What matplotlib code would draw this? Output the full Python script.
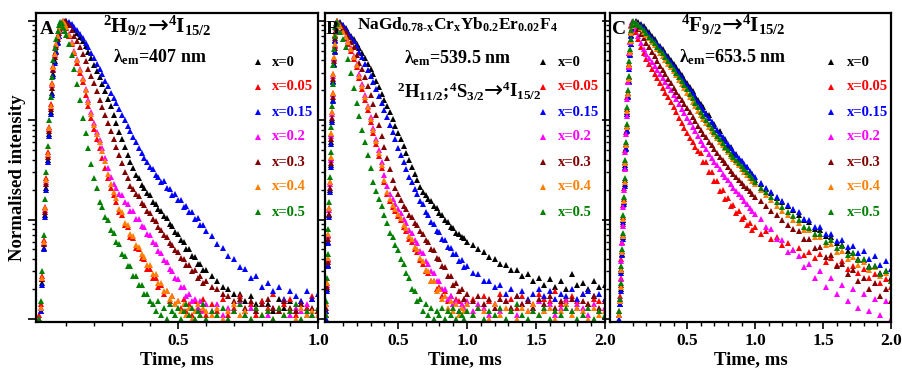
import matplotlib
matplotlib.use("Agg")
import matplotlib.pyplot as plt
from matplotlib.ticker import FixedLocator, NullFormatter, LogLocator, FormatStrFormatter

plt.rcParams['font.family'] = ['Liberation Serif', 'DejaVu Serif']
plt.rcParams['font.weight'] = 'bold'
plt.rcParams['mathtext.fontset'] = 'custom'
plt.rcParams['mathtext.rm'] = 'Liberation Serif:bold'
plt.rcParams['mathtext.it'] = 'Liberation Serif:bold'
plt.rcParams['mathtext.bf'] = 'Liberation Serif:bold'

# ---------------------------------------------------------------- series
labels = ['x=0', 'x=0.05', 'x=0.15', 'x=0.2', 'x=0.3', 'x=0.4', 'x=0.5']
colors = ['#000000', '#FF0000', '#0000FF', '#FF00FF', '#800000', '#FF8000', '#008000']

# ---------------------------------------------------------------- panel A (407 nm), time in ms
a_time = [0.005, 0.010, 0.015, 0.020, 0.025, 0.030, 0.035, 0.040, 0.045, 0.050,
          0.055, 0.060, 0.065, 0.070, 0.075, 0.080, 0.085, 0.090, 0.095, 0.100,
          0.11, 0.12, 0.13, 0.14, 0.15, 0.16, 0.17, 0.18, 0.19, 0.20,
          0.21, 0.22, 0.23, 0.24, 0.25, 0.26, 0.27, 0.28, 0.29, 0.30,
          0.31, 0.32, 0.33, 0.34, 0.35, 0.36, 0.37, 0.38, 0.39, 0.40,
          0.41, 0.42, 0.43, 0.44, 0.45, 0.46, 0.47, 0.48, 0.49, 0.50,
          0.51, 0.52, 0.53, 0.54, 0.55, 0.56, 0.57, 0.58, 0.59, 0.60,
          0.62, 0.64, 0.66, 0.68, 0.70, 0.72, 0.74, 0.76, 0.78, 0.80,
          0.82, 0.84, 0.86, 0.88, 0.90, 0.92, 0.94, 0.96, 0.98, 1.00]
a_x0 = [0.0010, 0.0012, 0.0023, 0.0052, 0.011, 0.021, 0.04, 0.072, 0.12, 0.19,
        0.29, 0.39, 0.5, 0.61, 0.71, 0.8, 0.88, 0.94, 0.98, 1.0,
        0.96, 0.9, 0.83, 0.76, 0.69, 0.62, 0.56, 0.49, 0.42, 0.36,
        0.31, 0.27, 0.23, 0.195, 0.165, 0.138, 0.113, 0.093, 0.076, 0.064,
        0.054, 0.045, 0.038, 0.033, 0.028, 0.026, 0.0225, 0.021, 0.0185, 0.0178,
        0.0150, 0.0144, 0.0128, 0.0123, 0.0108, 0.0104, 0.009, 0.0087, 0.0075, 0.0072,
        0.0062, 0.006, 0.0051, 0.005, 0.0043, 0.0042, 0.0036, 0.0036, 0.0031, 0.0031,
        0.0027, 0.0024, 0.0021, 0.0020, 0.0018, 0.0018, 0.0015, 0.0017, 0.0014, 0.0015,
        0.0014, 0.0012, 0.0016, 0.0013, 0.0015, 0.0012, 0.0014, 0.0013, 0.0016, 0.0012]
a_x005 = [0.0011, 0.0014, 0.0027, 0.0062, 0.0135, 0.026, 0.048, 0.086, 0.145, 0.235,
          0.35, 0.47, 0.59, 0.71, 0.81, 0.9, 0.97, 0.99, 0.93, 0.84,
          0.7, 0.58, 0.47, 0.38, 0.3, 0.24, 0.18, 0.138, 0.105, 0.081,
          0.064, 0.052, 0.042, 0.033, 0.026, 0.021, 0.0175, 0.015, 0.012, 0.0112,
          0.0088, 0.0084, 0.0067, 0.0065, 0.0052, 0.005, 0.0041, 0.004, 0.0032, 0.0032,
          0.0026, 0.0026, 0.0021, 0.0022, 0.0018, 0.0019, 0.0015, 0.0017, 0.0014, 0.0015,
          0.0013, 0.0016, 0.0012, 0.0014, 0.0011, 0.0015, 0.0013, 0.0012, 0.0016, 0.0011,
          0.0014, 0.0012, 0.0016, 0.0011, 0.0013, 0.0017, 0.0012, 0.0014, 0.0011, 0.0015,
          0.0013, 0.0018, 0.0012, 0.0014, 0.0016, 0.0011, 0.0015, 0.0013, 0.0017, 0.0012]
a_x015 = [0.0010, 0.0012, 0.0022, 0.005, 0.0105, 0.02, 0.038, 0.069, 0.115, 0.18,
          0.28, 0.38, 0.49, 0.6, 0.7, 0.79, 0.87, 0.93, 0.97, 0.99,
          0.97, 0.92, 0.86, 0.8, 0.74, 0.67, 0.6, 0.54, 0.48, 0.42,
          0.37, 0.33, 0.29, 0.25, 0.22, 0.19, 0.168, 0.148, 0.13, 0.114,
          0.1, 0.088, 0.077, 0.068, 0.06, 0.053, 0.047, 0.042, 0.038, 0.034,
          0.032, 0.028, 0.027, 0.024, 0.0245, 0.021, 0.0205, 0.0178, 0.0182, 0.0158,
          0.0157, 0.0135, 0.0137, 0.0118, 0.012, 0.0102, 0.0104, 0.0088, 0.0089, 0.0076,
          0.0068, 0.0057, 0.0052, 0.0043, 0.0040, 0.0033, 0.0032, 0.0026, 0.0027, 0.0021,
          0.0023, 0.0019, 0.0021, 0.0016, 0.0019, 0.0017, 0.0015, 0.0019, 0.0016, 0.0018]
a_x02 = [0.0010, 0.0013, 0.0025, 0.0058, 0.0125, 0.024, 0.045, 0.081, 0.135, 0.225,
         0.33, 0.45, 0.57, 0.69, 0.79, 0.88, 0.95, 1.0, 0.95, 0.87,
         0.73, 0.61, 0.5, 0.41, 0.33, 0.265, 0.205, 0.158, 0.12, 0.094,
         0.076, 0.063, 0.052, 0.042, 0.033, 0.027, 0.023, 0.021, 0.018, 0.0175,
         0.015, 0.0145, 0.0122, 0.0121, 0.0102, 0.0101, 0.0086, 0.0084, 0.0071, 0.007,
         0.0059, 0.0057, 0.0048, 0.0046, 0.0039, 0.0037, 0.0032, 0.003, 0.0026, 0.0025,
         0.0021, 0.0021, 0.0017, 0.0018, 0.0015, 0.0016, 0.0013, 0.0015, 0.0012, 0.0014,
         0.0012, 0.0014, 0.0011, 0.0013, 0.0012, 0.0015, 0.0011, 0.0013, 0.0012, 0.0014,
         0.0011, 0.0013, 0.0012, 0.0015, 0.0011, 0.0013, 0.0012, 0.0014, 0.0011, 0.0013]
a_x03 = [0.0010, 0.0013, 0.0025, 0.0057, 0.012, 0.023, 0.043, 0.078, 0.13, 0.21,
         0.32, 0.43, 0.55, 0.66, 0.76, 0.85, 0.92, 0.97, 0.99, 0.97,
         0.9, 0.8, 0.71, 0.62, 0.54, 0.46, 0.39, 0.33, 0.28, 0.235,
         0.195, 0.16, 0.135, 0.112, 0.093, 0.077, 0.064, 0.054, 0.045, 0.037,
         0.03, 0.026, 0.022, 0.0205, 0.018, 0.0172, 0.0148, 0.0141, 0.0121, 0.0117,
         0.0101, 0.0096, 0.0084, 0.0079, 0.007, 0.0066, 0.0058, 0.0056, 0.0049, 0.0047,
         0.0041, 0.004, 0.0035, 0.0035, 0.003, 0.0031, 0.0026, 0.0027, 0.0023, 0.0024,
         0.0021, 0.002, 0.0018, 0.0017, 0.0015, 0.0016, 0.0013, 0.0015, 0.0012, 0.0014,
         0.0016, 0.0013, 0.0012, 0.0015, 0.0013, 0.0012, 0.0014, 0.0011, 0.0013, 0.0012]
a_x04 = [0.0010, 0.0013, 0.0026, 0.006, 0.013, 0.025, 0.046, 0.083, 0.14, 0.23,
         0.34, 0.46, 0.58, 0.7, 0.8, 0.89, 0.96, 1.0, 0.94, 0.86,
         0.72, 0.6, 0.49, 0.4, 0.32, 0.26, 0.2, 0.152, 0.116, 0.09,
         0.073, 0.06, 0.049, 0.039, 0.029, 0.023, 0.019, 0.0165, 0.0128, 0.012,
         0.0093, 0.0089, 0.0071, 0.0069, 0.0055, 0.0053, 0.0045, 0.0042, 0.0035, 0.0035,
         0.0028, 0.0028, 0.0023, 0.0023, 0.0019, 0.0019, 0.0016, 0.0017, 0.0014, 0.0015,
         0.0012, 0.0014, 0.0011, 0.0013, 0.0010, 0.0012, 0.0014, 0.0011, 0.0013, 0.0012,
         0.0011, 0.0013, 0.0010, 0.0012, 0.0014, 0.0011, 0.0012, 0.0010, 0.0013, 0.0011,
         0.0012, 0.0010, 0.0013, 0.0011, 0.0012, 0.0010, 0.0013, 0.0011, 0.0012, 0.0011]
a_x05 = [0.0010, 0.0015, 0.003, 0.007, 0.016, 0.03, 0.055, 0.1, 0.17, 0.27,
         0.4, 0.53, 0.66, 0.79, 0.9, 0.98, 0.95, 0.86, 0.79, 0.72,
         0.58, 0.45, 0.33, 0.23, 0.16, 0.105, 0.074, 0.052, 0.036, 0.026,
         0.021, 0.015, 0.0135, 0.0105, 0.0098, 0.0079, 0.0074, 0.0059, 0.0057, 0.0045,
         0.0043, 0.0034, 0.0034, 0.0027, 0.0027, 0.0022, 0.0022, 0.0018, 0.0018, 0.0015,
         0.0014, 0.0012, 0.0015, 0.0011, 0.0013, 0.0010, 0.0014, 0.0012, 0.0011, 0.0013,
         0.0010, 0.0012, 0.0014, 0.0011, 0.0013, 0.0010, 0.0012, 0.0011, 0.0014, 0.0010,
         0.0012, 0.0011, 0.0013, 0.0010, 0.0012, 0.0014, 0.0011, 0.0010, 0.0013, 0.0011,
         0.0012, 0.0010, 0.0013, 0.0011, 0.0012, 0.0014, 0.0010, 0.0012, 0.0011, 0.0013]

# ---------------------------------------------------------------- panel B (539.5 nm), time in ms
b_time = [-0.025, -0.020, -0.015, -0.010, -0.005, 0.000, 0.005, 0.010, 0.015,
          0.020, 0.025, 0.030, 0.035, 0.040, 0.045, 0.050, 0.055, 0.060,
          0.08, 0.10, 0.12, 0.14, 0.16, 0.18, 0.20, 0.22, 0.24, 0.26,
          0.28, 0.30, 0.32, 0.34, 0.36, 0.38, 0.40, 0.42, 0.44, 0.46,
          0.48, 0.50, 0.52, 0.54, 0.56, 0.58, 0.60, 0.62, 0.64, 0.66,
          0.68, 0.70, 0.72, 0.74, 0.76, 0.78, 0.80, 0.82, 0.84, 0.86,
          0.88, 0.90, 0.92, 0.94, 0.96, 0.98, 1.00,
          1.04, 1.08, 1.12, 1.16, 1.20, 1.24, 1.28, 1.32, 1.36, 1.40,
          1.44, 1.48, 1.52, 1.56, 1.60, 1.64, 1.68, 1.72, 1.76, 1.80,
          1.84, 1.88, 1.92, 1.96, 2.00]
b_x0 = [0.0010, 0.0012, 0.002, 0.0035, 0.006, 0.011, 0.02, 0.035, 0.06,
        0.1, 0.16, 0.25, 0.37, 0.5, 0.64, 0.78, 0.9, 0.98,
        0.97, 0.91, 0.84, 0.77, 0.71, 0.65, 0.59, 0.53, 0.47, 0.42,
        0.37, 0.33, 0.29, 0.25, 0.215, 0.185, 0.16, 0.138, 0.12, 0.103,
        0.088, 0.075, 0.064, 0.055, 0.047, 0.04, 0.034, 0.029, 0.025, 0.0215,
        0.019, 0.0175, 0.016, 0.0152, 0.0138, 0.0131, 0.0117, 0.0111, 0.0099, 0.0094,
        0.0084, 0.0082, 0.0074, 0.0072, 0.0066, 0.0065, 0.006,
        0.0056, 0.0050, 0.0047, 0.0042, 0.0040, 0.0036, 0.0035, 0.0031, 0.0031, 0.0027,
        0.0028, 0.0024, 0.0026, 0.0022, 0.0025, 0.0021, 0.0024, 0.0020, 0.0028, 0.0022,
        0.0023, 0.0020, 0.0024, 0.0021, 0.0022]
b_x005 = [0.0011, 0.0014, 0.0023, 0.004, 0.007, 0.013, 0.024, 0.042, 0.072,
          0.12, 0.19, 0.29, 0.42, 0.57, 0.72, 0.86, 0.96, 0.99,
          0.88, 0.77, 0.67, 0.59, 0.5, 0.41, 0.34, 0.265, 0.205, 0.16,
          0.126, 0.097, 0.075, 0.058, 0.044, 0.033, 0.024, 0.018, 0.0152, 0.0135,
          0.0122, 0.0108, 0.0098, 0.0084, 0.0077, 0.0064, 0.006, 0.005, 0.0047, 0.0039,
          0.0036, 0.003, 0.0029, 0.0024, 0.0024, 0.002, 0.0021, 0.0017, 0.0019, 0.0015,
          0.0017, 0.0014, 0.0016, 0.0015, 0.0013, 0.0016, 0.0014,
          0.0016, 0.0013, 0.0017, 0.0015, 0.0014, 0.0018, 0.0015, 0.0016, 0.0013, 0.0017,
          0.0015, 0.0014, 0.0018, 0.0016, 0.0015, 0.0019, 0.0014, 0.0016, 0.0017, 0.0015,
          0.0018, 0.0014, 0.0016, 0.0015, 0.0013]
b_x015 = [0.0010, 0.0012, 0.0019, 0.0034, 0.0058, 0.0105, 0.019, 0.034, 0.058,
          0.097, 0.155, 0.24, 0.36, 0.49, 0.63, 0.77, 0.89, 0.97,
          0.96, 0.9, 0.82, 0.75, 0.69, 0.62, 0.56, 0.49, 0.43, 0.37,
          0.32, 0.28, 0.24, 0.205, 0.175, 0.15, 0.128, 0.107, 0.09, 0.076,
          0.064, 0.053, 0.045, 0.038, 0.032, 0.027, 0.024, 0.0205, 0.0182, 0.0152,
          0.0142, 0.0118, 0.0112, 0.0094, 0.009, 0.0077, 0.0075, 0.0064, 0.0062, 0.0053,
          0.0052, 0.0045, 0.0045, 0.0038, 0.0039, 0.0033, 0.0034,
          0.0029, 0.0028, 0.0024, 0.0024, 0.0021, 0.0022, 0.0018, 0.0020, 0.0017, 0.0019,
          0.0016, 0.0018, 0.0020, 0.0017, 0.0019, 0.0016, 0.0018, 0.0017, 0.0020, 0.0016,
          0.0018, 0.0019, 0.0017, 0.0018, 0.0016]
b_x02 = [0.0011, 0.0014, 0.0022, 0.0039, 0.0068, 0.0125, 0.023, 0.04, 0.07,
         0.115, 0.185, 0.28, 0.41, 0.56, 0.71, 0.85, 0.95, 0.99,
         0.9, 0.79, 0.7, 0.62, 0.53, 0.44, 0.37, 0.29, 0.23, 0.18,
         0.14, 0.108, 0.084, 0.065, 0.05, 0.038, 0.028, 0.022, 0.018, 0.016,
         0.0142, 0.0127, 0.0116, 0.0101, 0.0093, 0.0079, 0.0074, 0.0062, 0.0058, 0.0048,
         0.0046, 0.0038, 0.0036, 0.003, 0.0029, 0.0024, 0.0024, 0.002, 0.002, 0.0016,
         0.0017, 0.0014, 0.0015, 0.0012, 0.0014, 0.0013, 0.0015,
         0.0012, 0.0014, 0.0013, 0.0011, 0.0014, 0.0012, 0.0015, 0.0013, 0.0011, 0.0014,
         0.0012, 0.0013, 0.0015, 0.0012, 0.0014, 0.0011, 0.0013, 0.0015, 0.0012, 0.0014,
         0.0013, 0.0011, 0.0014, 0.0012, 0.0013]
b_x03 = [0.0011, 0.0013, 0.0021, 0.0037, 0.0064, 0.0115, 0.021, 0.037, 0.064,
         0.105, 0.17, 0.26, 0.39, 0.53, 0.67, 0.81, 0.92, 0.99,
         0.94, 0.85, 0.77, 0.69, 0.61, 0.54, 0.45, 0.38, 0.33, 0.27,
         0.22, 0.18, 0.145, 0.114, 0.09, 0.07, 0.054, 0.042, 0.032, 0.025,
         0.021, 0.018, 0.0158, 0.0138, 0.0128, 0.0112, 0.0106, 0.0092, 0.0088, 0.0076,
         0.0072, 0.0062, 0.006, 0.0051, 0.0049, 0.0041, 0.004, 0.0034, 0.0033, 0.0027,
         0.0027, 0.0022, 0.0023, 0.0019, 0.002, 0.0016, 0.0018,
         0.0015, 0.0017, 0.0014, 0.0016, 0.0013, 0.0016, 0.0015, 0.0013, 0.0017, 0.0014,
         0.0015, 0.0013, 0.0016, 0.0014, 0.0017, 0.0013, 0.0015, 0.0014, 0.0016, 0.0013,
         0.0015, 0.0014, 0.0017, 0.0013, 0.0015]
b_x04 = [0.0011, 0.0014, 0.0023, 0.0041, 0.0071, 0.013, 0.024, 0.043, 0.074,
         0.12, 0.19, 0.29, 0.43, 0.58, 0.73, 0.87, 0.96, 0.99,
         0.89, 0.78, 0.69, 0.61, 0.52, 0.43, 0.36, 0.28, 0.22, 0.17,
         0.135, 0.104, 0.08, 0.062, 0.047, 0.035, 0.025, 0.019, 0.016, 0.014,
         0.0128, 0.0113, 0.0104, 0.0088, 0.0082, 0.0068, 0.0064, 0.0053, 0.005, 0.0041,
         0.0038, 0.0031, 0.003, 0.0024, 0.0024, 0.0019, 0.002, 0.0016, 0.0017, 0.0013,
         0.0015, 0.0012, 0.0014, 0.0011, 0.0013, 0.0012, 0.0014,
         0.0011, 0.0013, 0.0012, 0.0010, 0.0014, 0.0011, 0.0013, 0.0012, 0.0010, 0.0013,
         0.0012, 0.0014, 0.0011, 0.0012, 0.0013, 0.0010, 0.0012, 0.0014, 0.0011, 0.0013,
         0.0012, 0.0010, 0.0013, 0.0011, 0.0012]
b_x05 = [0.0011, 0.0015, 0.0026, 0.0045, 0.008, 0.015, 0.027, 0.048, 0.085,
         0.14, 0.23, 0.36, 0.52, 0.7, 0.86, 0.96, 0.98, 0.92,
         0.78, 0.66, 0.54, 0.41, 0.3, 0.21, 0.15, 0.11, 0.08, 0.06,
         0.045, 0.033, 0.024, 0.0195, 0.0162, 0.0138, 0.0112, 0.0092, 0.0074, 0.0066,
         0.0055, 0.0049, 0.004, 0.0036, 0.0029, 0.0026, 0.002, 0.0019, 0.0015, 0.0016,
         0.0012, 0.0014, 0.0011, 0.0013, 0.0010, 0.0012, 0.0011, 0.0013, 0.0010, 0.0012,
         0.0011, 0.0013, 0.0010, 0.0012, 0.0011, 0.0010, 0.0012,
         0.0011, 0.0013, 0.0010, 0.0012, 0.0011, 0.0013, 0.0010, 0.0012, 0.0014, 0.0011,
         0.0010, 0.0012, 0.0011, 0.0013, 0.0010, 0.0012, 0.0011, 0.0013, 0.0012, 0.0010,
         0.0011, 0.0013, 0.0010, 0.0012, 0.0011]

# ---------------------------------------------------------------- panel C (653.5 nm), time in ms
c_time = [0.000, 0.005, 0.010, 0.015, 0.020, 0.025, 0.030, 0.035, 0.040, 0.045, 0.050,
          0.055, 0.060, 0.065, 0.070, 0.075, 0.080, 0.085, 0.090, 0.095, 0.100,
          0.12, 0.14, 0.16, 0.18, 0.20, 0.22, 0.24, 0.26, 0.28, 0.30,
          0.32, 0.34, 0.36, 0.38, 0.40, 0.42, 0.44, 0.46, 0.48, 0.50,
          0.52, 0.54, 0.56, 0.58, 0.60, 0.62, 0.64, 0.66, 0.68, 0.70,
          0.72, 0.74, 0.76, 0.78, 0.80, 0.82, 0.84, 0.86, 0.88, 0.90,
          0.92, 0.94, 0.96, 0.98, 1.00,
          1.04, 1.08, 1.12, 1.16, 1.20, 1.24, 1.28, 1.32, 1.36, 1.40,
          1.44, 1.48, 1.52, 1.56, 1.60, 1.64, 1.68, 1.72, 1.76, 1.80,
          1.84, 1.88, 1.92, 1.96, 2.00]
c_x0 = [0.0011, 0.0014, 0.002, 0.003, 0.0045, 0.0066, 0.0098, 0.015, 0.023, 0.035, 0.053,
        0.08, 0.12, 0.175, 0.25, 0.34, 0.46, 0.59, 0.72, 0.84, 0.93,
        1.0, 0.97, 0.93, 0.88, 0.82, 0.765, 0.71, 0.655, 0.6, 0.56,
        0.52, 0.48, 0.44, 0.405, 0.37, 0.34, 0.31, 0.285, 0.26, 0.237,
        0.215, 0.195, 0.175, 0.16, 0.145, 0.136, 0.117, 0.112, 0.096, 0.092,
        0.079, 0.077, 0.066, 0.064, 0.055, 0.054, 0.046, 0.046, 0.04, 0.039,
        0.034, 0.0335, 0.029, 0.029, 0.025,
        0.0228, 0.0201, 0.0183, 0.0165, 0.015, 0.0137, 0.0124, 0.0112, 0.0098, 0.0094,
        0.0081, 0.0078, 0.0069, 0.0067, 0.0058, 0.0055, 0.0048, 0.0046, 0.004, 0.0039,
        0.0034, 0.0034, 0.0029, 0.003, 0.0026]
c_x005 = [0.0012, 0.0017, 0.0026, 0.004, 0.006, 0.009, 0.014, 0.021, 0.033, 0.05, 0.076,
          0.115, 0.17, 0.25, 0.35, 0.48, 0.62, 0.77, 0.9, 0.98, 0.92,
          0.78, 0.65, 0.55, 0.47, 0.41, 0.365, 0.325, 0.293, 0.263, 0.235,
          0.21, 0.19, 0.17, 0.152, 0.135, 0.12, 0.106, 0.094, 0.083, 0.074,
          0.066, 0.06, 0.054, 0.049, 0.047, 0.038, 0.038, 0.030, 0.030, 0.0245,
          0.0245, 0.0196, 0.0198, 0.016, 0.0165, 0.0136, 0.014, 0.0117, 0.0123, 0.0102,
          0.0106, 0.0088, 0.0093, 0.0079, 0.0085,
          0.0072, 0.0076, 0.0064, 0.0066, 0.0056, 0.0058, 0.0049, 0.0052, 0.0044, 0.0047,
          0.0041, 0.0045, 0.0037, 0.0041, 0.0035, 0.0038, 0.0032, 0.0034, 0.0029, 0.0032,
          0.0026, 0.0028, 0.0023, 0.0025, 0.0021]
c_x015 = [0.0010, 0.0014, 0.0019, 0.0029, 0.0044, 0.0064, 0.0095, 0.0145, 0.022, 0.034, 0.051,
          0.078, 0.115, 0.17, 0.24, 0.33, 0.45, 0.58, 0.71, 0.83, 0.92,
          0.98, 0.94, 0.9, 0.85, 0.79, 0.735, 0.68, 0.63, 0.58, 0.54,
          0.5, 0.46, 0.42, 0.385, 0.355, 0.325, 0.3, 0.275, 0.25, 0.228,
          0.205, 0.186, 0.168, 0.153, 0.138, 0.127, 0.115, 0.105, 0.096, 0.088,
          0.08, 0.073, 0.067, 0.062, 0.057, 0.053, 0.049, 0.045, 0.042, 0.039,
          0.036, 0.0335, 0.031, 0.029, 0.027,
          0.0235, 0.021, 0.019, 0.017, 0.0155, 0.014, 0.0128, 0.0118, 0.0102, 0.0099,
          0.0085, 0.0084, 0.0072, 0.0072, 0.0061, 0.0062, 0.0053, 0.0054, 0.0046, 0.0048,
          0.004, 0.0043, 0.0035, 0.0038, 0.0032]
c_x02 = [0.0011, 0.0016, 0.0025, 0.0038, 0.0058, 0.0087, 0.0135, 0.02, 0.032, 0.048, 0.073,
         0.11, 0.165, 0.24, 0.34, 0.47, 0.61, 0.76, 0.89, 0.97, 0.94,
         0.82, 0.7, 0.6, 0.52, 0.46, 0.42, 0.385, 0.35, 0.32, 0.29,
         0.265, 0.24, 0.22, 0.2, 0.18, 0.162, 0.145, 0.13, 0.117, 0.105,
         0.095, 0.085, 0.077, 0.069, 0.062, 0.056, 0.051, 0.046, 0.042, 0.038,
         0.035, 0.032, 0.029, 0.027, 0.025, 0.023, 0.021, 0.0195, 0.018, 0.0167,
         0.0155, 0.0143, 0.0132, 0.0123, 0.0114,
         0.0102, 0.0084, 0.0081, 0.0063, 0.0062, 0.0047, 0.0049, 0.0043, 0.0033, 0.0036,
         0.0026, 0.003, 0.0021, 0.0026, 0.0018, 0.0022, 0.0015, 0.002, 0.0013, 0.0018,
         0.0012, 0.0016, 0.0011, 0.0015, 0.0010]
c_x03 = [0.0011, 0.0015, 0.0022, 0.0032, 0.0048, 0.007, 0.0105, 0.016, 0.025, 0.038, 0.058,
         0.088, 0.13, 0.19, 0.27, 0.37, 0.5, 0.63, 0.77, 0.89, 0.97,
         0.92, 0.83, 0.74, 0.67, 0.6, 0.54, 0.49, 0.44, 0.39, 0.355,
         0.32, 0.29, 0.26, 0.235, 0.21, 0.192, 0.175, 0.16, 0.145, 0.132,
         0.12, 0.108, 0.098, 0.088, 0.08, 0.073, 0.067, 0.061, 0.056, 0.051,
         0.047, 0.043, 0.04, 0.037, 0.034, 0.031, 0.029, 0.027, 0.025, 0.0235,
         0.022, 0.0207, 0.0195, 0.0182, 0.017,
         0.0152, 0.0136, 0.0122, 0.011, 0.0099, 0.0089, 0.008, 0.0077, 0.0064, 0.0063,
         0.0052, 0.0053, 0.0042, 0.0044, 0.0034, 0.0036, 0.0028, 0.0031, 0.0024, 0.0026,
         0.002, 0.0023, 0.0017, 0.002, 0.0015]
c_x04 = [0.0011, 0.0015, 0.0021, 0.0031, 0.0047, 0.0069, 0.0102, 0.0155, 0.024, 0.037, 0.056,
         0.085, 0.125, 0.185, 0.26, 0.36, 0.49, 0.62, 0.76, 0.88, 0.96,
         0.95, 0.9, 0.84, 0.78, 0.72, 0.665, 0.61, 0.565, 0.52, 0.48,
         0.44, 0.405, 0.37, 0.34, 0.31, 0.282, 0.255, 0.232, 0.21, 0.19,
         0.17, 0.154, 0.138, 0.125, 0.113, 0.103, 0.093, 0.085, 0.078, 0.072,
         0.066, 0.061, 0.056, 0.052, 0.048, 0.044, 0.041, 0.038, 0.035, 0.0325,
         0.03, 0.028, 0.026, 0.0245, 0.023,
         0.02, 0.0176, 0.0156, 0.0138, 0.0123, 0.011, 0.0099, 0.0093, 0.0079, 0.0078,
         0.0066, 0.0067, 0.0056, 0.0057, 0.0047, 0.0048, 0.004, 0.0042, 0.0035, 0.0037,
         0.0031, 0.0033, 0.0027, 0.0029, 0.0024]
c_x05 = [0.0012, 0.0016, 0.0023, 0.0034, 0.005, 0.0073, 0.011, 0.017, 0.026, 0.04, 0.061,
         0.092, 0.135, 0.2, 0.28, 0.39, 0.52, 0.66, 0.8, 0.91, 0.99,
         0.96, 0.91, 0.86, 0.8, 0.75, 0.69, 0.64, 0.595, 0.55, 0.51,
         0.47, 0.43, 0.39, 0.36, 0.33, 0.3, 0.27, 0.247, 0.225, 0.205,
         0.185, 0.167, 0.15, 0.135, 0.122, 0.11, 0.1, 0.091, 0.083, 0.076,
         0.07, 0.064, 0.059, 0.054, 0.05, 0.046, 0.043, 0.04, 0.037, 0.0345,
         0.032, 0.03, 0.028, 0.026, 0.024,
         0.021, 0.0188, 0.0168, 0.015, 0.0134, 0.012, 0.0108, 0.0099, 0.0085, 0.0083,
         0.0071, 0.0071, 0.006, 0.0062, 0.0052, 0.0054, 0.0044, 0.0046, 0.0039, 0.004,
         0.0033, 0.0034, 0.0028, 0.003, 0.0024]

panels = [
    dict(time=a_time, series=[a_x0, a_x005, a_x015, a_x02, a_x03, a_x04, a_x05],
         xlim=(-0.007, 1.0), xmajor=[0.5, 1.0], rect=(36, 282), legend_x=(0.787, 0.837)),
    dict(time=b_time, series=[b_x0, b_x005, b_x015, b_x02, b_x03, b_x04, b_x05],
         xlim=(-0.03, 2.0), xmajor=[0.5, 1.0, 1.5, 2.0], rect=(325, 280), legend_x=(0.779, 0.832)),
    dict(time=c_time, series=[c_x0, c_x005, c_x015, c_x02, c_x03, c_x04, c_x05],
         xlim=(-0.068, 2.0), xmajor=[0.5, 1.0, 1.5, 2.0], rect=(610, 281), legend_x=(0.786, 0.843)),
]

W, H = 903, 368
TOP, BOTTOM = 13, 322
fig = plt.figure(figsize=(W / 100, H / 100), dpi=100)

axes = []
for p in panels:
    left, width = p['rect']
    ax = fig.add_axes([left / W, 1 - BOTTOM / H, width / W, (BOTTOM - TOP) / H])
    axes.append(ax)
    for vals, col in zip(p['series'], colors):
        ax.plot(p['time'], vals, ls='none', marker='^', ms=4.6, mew=0, color=col)
    ax.set_yscale('log')
    ax.set_ylim(0.00093, 1.2)
    ax.set_xlim(*p['xlim'])
    ax.xaxis.set_major_locator(FixedLocator(p['xmajor']))
    minors = [round(0.1 * k, 1) for k in range(1, int(p['xlim'][1] * 10) + 1)]
    ax.xaxis.set_minor_locator(FixedLocator([m for m in minors if m not in p['xmajor']]))
    ax.xaxis.set_major_formatter(FormatStrFormatter('%.1f'))
    ax.yaxis.set_major_locator(LogLocator(base=10, numticks=10))
    ax.yaxis.set_minor_locator(LogLocator(base=10, subs=range(2, 10), numticks=20))
    ax.yaxis.set_major_formatter(NullFormatter())
    ax.yaxis.set_minor_formatter(NullFormatter())
    ax.tick_params(which='major', direction='out', length=5, width=1.2,
                   labelsize=12.5, pad=3)
    ax.tick_params(which='minor', direction='out', length=3, width=1.0)
    ax.tick_params(axis='y', which='major', length=6)
    for lab in ax.get_xticklabels():
        lab.set_fontweight('bold')
    for s in ax.spines.values():
        s.set_linewidth(1.6)

    # legend column: marker + coloured label
    mx, tx = p['legend_x']
    for k, (lab, col) in enumerate(zip(labels, colors)):
        yy = (BOTTOM - (62 + 25 * k)) / (BOTTOM - TOP)
        ax.plot([mx], [yy], transform=ax.transAxes, ls='none', marker='^',
                ms=4.6, mew=0, color=col, clip_on=False)
        ax.text(tx, yy, lab, transform=ax.transAxes, color=col, fontsize=10.5,
                fontweight='bold', ha='left', va='center')

    ax.text(0.5, -0.095, 'Time, ms', transform=ax.transAxes, ha='center',
            va='top', fontsize=13.5, fontweight='bold')


def to_axes(i, px, py):
    left, width = panels[i]['rect']
    return (px - left) / width, (BOTTOM - py) / (BOTTOM - TOP)


def put(i, px, py, s, size, **kw):
    x, y = to_axes(i, px, py)
    opts = dict(ha='center', va='center', fontsize=size, fontweight='bold')
    opts.update(kw)
    axes[i].text(x, y, s, transform=axes[i].transAxes, **opts)


def transition(i, left_s, right_s, a0, a1, base, size):
    """Term symbols on both sides of a long arrow spanning pixels a0..a1."""
    put(i, a0, base, left_s, size, ha='right', va='baseline')
    put(i, (a0 + a1) / 2, base, '\u2192', size + 3, va='baseline',
        family='DejaVu Sans', fontweight='normal')
    put(i, a1, base, right_s, size, ha='left', va='baseline')


# panel letters
put(0, 47, 30, 'A', 14)
put(1, 332, 29, 'B', 14)
put(2, 619, 30, 'C', 14)

# panel A annotations
transition(0, r'$\mathrm{^{2}H_{9/2}}$', r'$\mathrm{^{4}I_{15/2}}$', 148, 168, 33, 15)
put(0, 160, 57, r'$\mathrm{\lambda_{em}}$=407 nm', 13)

# panel B annotations
put(1, 457, 25, r'$\mathrm{NaGd_{0.78\text{-}x}Cr_{x}Yb_{0.2}Er_{0.02}F_{4}}$', 12.5)
put(1, 458, 58, r'$\mathrm{\lambda_{em}}$=539.5 nm', 13)
transition(1, r'$\mathrm{^{2}H_{11/2}}$;$\mathrm{^{4}S_{3/2}}$', r'$\mathrm{^{4}I_{15/2}}$',
           485, 502, 97, 13.5)

# panel C annotations
transition(2, r'$\mathrm{^{4}F_{9/2}}$', r'$\mathrm{^{4}I_{15/2}}$', 722, 742, 32, 15)
put(2, 733, 57, r'$\mathrm{\lambda_{em}}$=653.5 nm', 13)

fig.text(18 / W, 1 - 178 / H, 'Normalised intensity', rotation=90, ha='center',
         va='center', fontsize=13.5, fontweight='bold')

fig.savefig('out.png', dpi=100)
